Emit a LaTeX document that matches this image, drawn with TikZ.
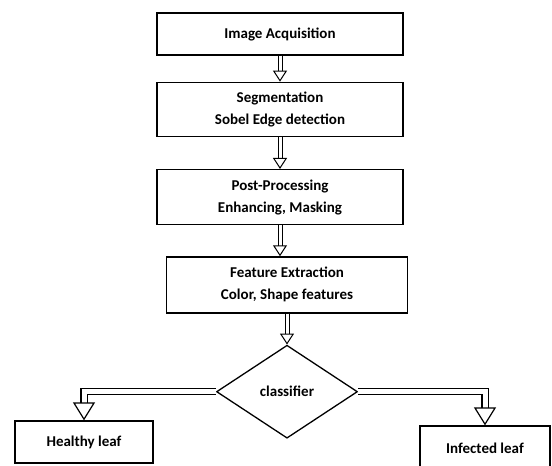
\documentclass[tikz,border=0pt]{standalone}
\usepackage{fontspec}
\setmainfont{Carlito}
\usetikzlibrary{positioning,shapes.geometric,arrows.meta}
\tikzstyle{procbox}=[rectangle, draw=black, line width=1.3pt, minimum width=246pt, inner sep=2pt, text centered, align=center, font=\bfseries\fontsize{15}{22}\selectfont]
\tikzstyle{leafbox}=[rectangle, draw=black, line width=1.3pt, inner sep=2pt, text centered, font=\bfseries\fontsize{15}{22}\selectfont]
\tikzstyle{decbox}=[diamond, draw=black, line width=1.3pt, minimum width=141pt, minimum height=93pt, inner sep=0pt, font=\bfseries\fontsize{15}{22}\selectfont]
\tikzstyle{dline}=[draw=black, line width=1pt, double=white, double distance=3pt, -{Triangle[open, length=11pt, width=14pt, line width=1pt]}]
\tikzstyle{bline}=[draw=black, line width=1.2pt, double=white, double distance=5pt, -{Triangle[open, length=18pt, width=22pt, line width=1.2pt]}]

\begin{document}
\begin{tikzpicture}[x=1pt, y=-1pt, node distance=0pt]
\useasboundingbox (0,0) rectangle (552,466);

    \node (acq) [procbox, minimum height=42pt] at (280,34) {Image Acquisition};
    \node (seg) [procbox, minimum height=54pt, below=26pt of acq] {Segmentation\\Sobel Edge detection};
    \node (post) [procbox, minimum height=55pt, below=32pt of seg] {Post-Processing\\Enhancing, Masking};
    \node (feat) [procbox, minimum width=241pt, minimum height=56pt, below=31pt of post, xshift=7pt] {Feature Extraction\\Color, Shape features};

% decision
    \node (cls) [decbox, below=31pt of feat] {classifier};

% results
    \node (healthy) [leafbox, minimum width=138pt, minimum height=42pt] at (84,442) {Healthy leaf};
    \node (infected) [leafbox, minimum width=130pt, minimum height=44pt] at (485,448) {Infected leaf};

    \draw[dline] (acq.south) -- (seg.north);
    \draw[dline] (seg.south) -- (post.north);
    \draw[dline] (post.south) -- (post.south |- feat.north);
    \draw[dline] (feat.south) -- (cls.north);
    \draw[bline] (cls.west) -| (healthy.north);
    \draw[bline] (cls.east) -| (infected.north);

\end{tikzpicture}
\end{document}
